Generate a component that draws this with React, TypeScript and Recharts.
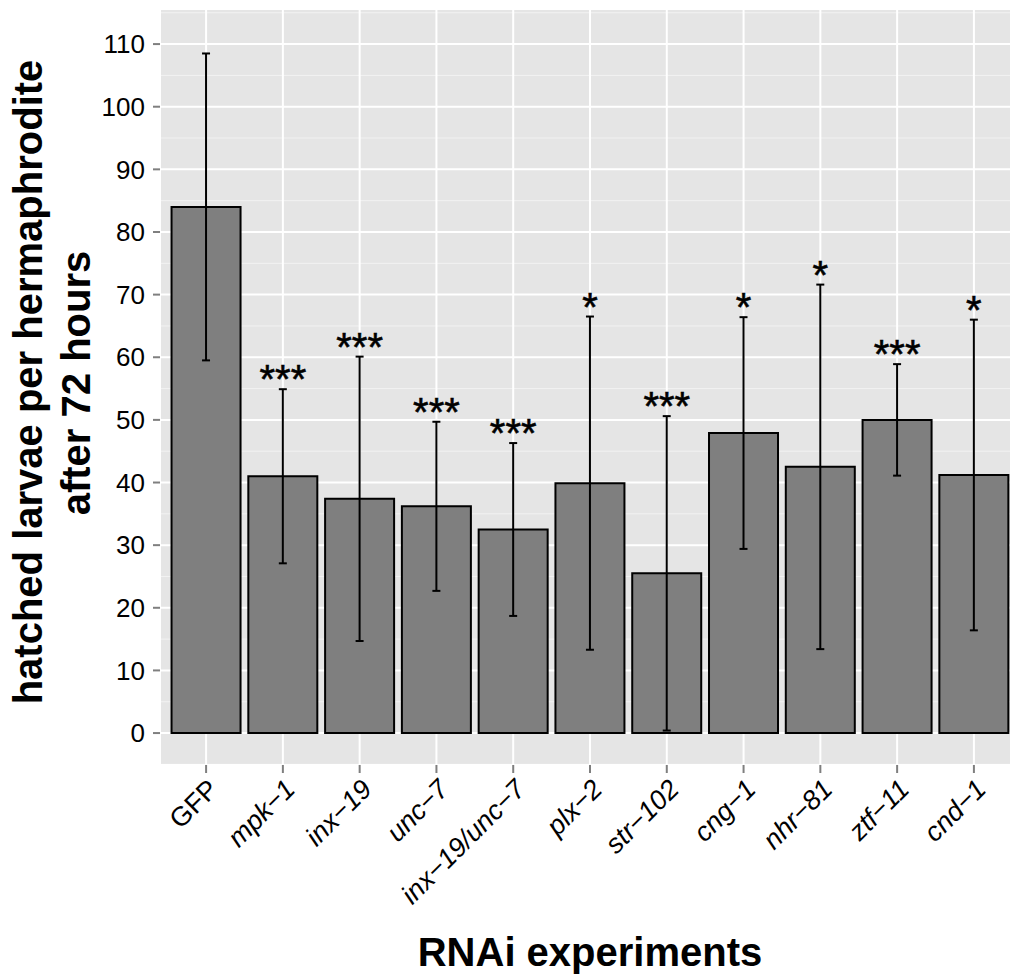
import { ComposedChart, Bar, ErrorBar, Line, XAxis, YAxis, CartesianGrid } from 'recharts'

const genes = ['GFP', 'mpk−1', 'inx−19', 'unc−7', 'inx−19/unc−7', 'plx−2', 'str−102', 'cng−1', 'nhr−81', 'ztf−11', 'cnd−1']
const means = [84.0, 41.0, 37.4, 36.2, 32.5, 39.9, 25.5, 47.9, 42.5, 50.0, 41.2]
const sds = [24.5, 13.9, 22.7, 13.5, 13.8, 26.6, 25.1, 18.5, 29.1, 8.9, 24.8]
const stars = ['', '***', '***', '***', '***', '*', '***', '*', '*', '***', '*']
const yTicks = [0, 10, 20, 30, 40, 50, 60, 70, 80, 90, 100, 110]
const minorTicks = [-5, 5, 15, 25, 35, 45, 55, 65, 75, 85, 95, 105, 115]
const yDomain = [-5.1, 115.6]

const data = genes.map((name, i) => ({
    name,
    mean: means[i],
    sd: sds[i],
    top: means[i] + sds[i],
}))

const FONT = '"Liberation Sans", Arial, sans-serif'

const GeneTick = ({ x, y, payload }: any) => (
    <g transform={`translate(${x},${y})`}>
        <text
            transform="rotate(-45)"
            textAnchor="end"
            dy="0.72em"
            fontSize={27}
            fontFamily={FONT}
            fontStyle={payload.value === 'GFP' ? 'normal' : 'italic'}
            fill="#000"
        >
            {payload.value}
        </text>
    </g>
)

const SigLabel = (props: any) => {
    const { x, y, index } = props
    if (!stars[index]) return null
    return (
        <text x={x} y={y + 4} textAnchor="middle" fontSize={40} fontFamily={FONT} fill="#000" stroke="#000" strokeWidth={0.6}>
            {stars[index]}
        </text>
    )
}

const YTitle = () => (
    <g>
        <text transform="translate(42,382) rotate(-90)" textAnchor="middle" fontSize={40} fontWeight="bold" fontFamily={FONT} fill="#000">
            hatched larvae per hermaphrodite
        </text>
        <text transform="translate(90,383) rotate(-90)" textAnchor="middle" fontSize={40} fontWeight="bold" fontFamily={FONT} fill="#000">
            after 72 hours
        </text>
    </g>
)

const XTitle = () => (
    <text x={590} y={966} textAnchor="middle" fontSize={40} fontWeight="bold" fontFamily={FONT} fill="#000">
        RNAi experiments
    </text>
)

// minor gridlines: map values onto the plot area the same way the y axis does
const minorLines = ({ offset }: any) => {
    const [lo, hi] = yDomain
    return minorTicks.map((v) => offset.top + ((hi - v) / (hi - lo)) * offset.height)
}

export default function App() {
    return (
        <div style={{ position: 'absolute', left: 0, top: 0, width: 1010, height: 977, overflow: 'hidden', background: '#fff' }}>
            <ComposedChart
                width={1020}
                height={977}
                data={data}
                margin={{ top: 9, right: 0, bottom: 0, left: 0 }}
                barCategoryGap="5%"
                style={{ fontFamily: FONT }}
            >
                <CartesianGrid
                    fill="#E5E5E5"
                    stroke="#F2F2F2"
                    strokeWidth={1}
                    vertical={false}
                    horizontalCoordinatesGenerator={minorLines}
                />
                <CartesianGrid stroke="#FFFFFF" strokeWidth={2} />
                <XAxis
                    dataKey="name"
                    type="category"
                    interval={0}
                    height={212}
                    padding={{ left: 7.7, right: 7.7 }}
                    axisLine={false}
                    tickLine={{ stroke: '#7F7F7F', strokeWidth: 2 }}
                    tickSize={8}
                    tickMargin={4}
                    tick={<GeneTick />}
                    label={<XTitle />}
                />
                <YAxis
                    type="number"
                    width={160}
                    domain={yDomain}
                    ticks={yTicks}
                    allowDataOverflow
                    axisLine={false}
                    tickLine={{ stroke: '#7F7F7F', strokeWidth: 2 }}
                    tickSize={7}
                    tickMargin={8}
                    tick={{ fontSize: 26, fill: '#000', fontFamily: FONT }}
                    label={<YTitle />}
                />
                <Bar dataKey="mean" fill="#7F7F7F" stroke="#000" strokeWidth={2} isAnimationActive={false}>
                    <ErrorBar dataKey="sd" width={4} strokeWidth={2} stroke="#000" direction="y" isAnimationActive={false} />
                </Bar>
                <Line
                    dataKey="top"
                    stroke="none"
                    dot={false}
                    activeDot={false}
                    isAnimationActive={false}
                    label={(p: any) => <SigLabel {...p} />}
                />
            </ComposedChart>
        </div>
    )
}
